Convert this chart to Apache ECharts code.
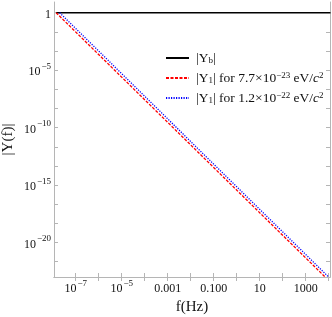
<!DOCTYPE html>
<html>
<head>
<meta charset="utf-8">
<script src="https://cdn.jsdelivr.net/npm/echarts@6/dist/echarts.min.js"></script>
<style>
  html, body { margin: 0; padding: 0; background: #fff; }
  #card { width: 332px; height: 317px; }
</style>
</head>
<body>
<div id="card"></div>
<script>
// values (log-log)
const seriesNames = ['Yb', 'Y1a', 'Y1b']
const ybFreq = [1.4e-8, 1.2e4]
const ybVal = [1, 1]
const y1aFreq = [1.4e-8, 7.0e3]
const y1aVal = [1, 1e-23]
const y1bFreq = [2.0e-8, 9.9e3]
const y1bVal = [1, 1e-23]

// tick marks (every decade on x, every 5/3 decade on y) and labelled ticks
const xTicks = [1e-8, 1e-7, 1e-6, 1e-5, 1e-4, 1e-3, 1e-2, 1e-1, 1, 10, 100, 1000, 1e4]
const xLabelVals = [1e-7, 1e-5, 1e-3, 1e-1, 10, 1000]
const xTickLabels = ['10^−7', '10^−5', '0.001', '0.100', '10', '1000']
const yLabelVals = [1, 1e-5, 1e-10, 1e-15, 1e-20]
const yTickLabels = ['1', '10^−5', '10^−10', '10^−15', '10^−20']

const FONT = 'Liberation Serif'

function pairs (xs, ys) {
  return xs.map((x, i) => [x, ys[i]])
}
// y tick marks: majors every 5 decades, two minors between
let yTicks = []
for (let e = 0; e >= -20; e -= 5) {
  yTicks.push(Math.pow(10, e))
  if (e > -20) {
    yTicks.push(Math.pow(10, e - 5 / 3))
    yTicks.push(Math.pow(10, e - 10 / 3))
  }
}
yTicks.push(Math.pow(10, -20 - 5 / 3))

// '10^−5' -> rich text with superscript
function rich (s) {
  let p = s.split('^')
  if (p.length === 1) return '{n|' + s + '}'
  return '{n|' + p[0] + '}{s|' + p[1] + '}'
}
function tickFormatter (vals, labels) {
  return function (v) {
    let l = Math.log10(v)
    for (let i = 0; i < vals.length; i++) {
      if (Math.abs(Math.log10(vals[i]) - l) < 1e-6) return rich(labels[i])
    }
    return ''
  }
}
const tickRich = {
  n: { fontFamily: FONT, fontSize: 12, color: '#111', lineHeight: 16, verticalAlign: 'bottom' },
  s: { fontFamily: FONT, fontSize: 9, color: '#111', lineHeight: 16, verticalAlign: 'top', padding: [0, 0, 0, 1] }
}
const frame = '#b5b5b5'

let myChart = echarts.init(document.getElementById('card'))

const legendText = {
  Yb: '|Y{sub|b}|',
  Y1a: '|Y{sub|1}| for 7.7×10{sup|−23} eV/{it|c}{sup|2}',
  Y1b: '|Y{sub|1}| for 1.2×10{sup|−22} eV/{it|c}{sup|2}'
}

function xAx (pos, show) {
  return {
    type: 'log',
    position: pos,
    min: 1.14e-8,
    max: 1.14e4,
    axisLine: { show: true, lineStyle: { color: frame, width: 1 } },
    axisTick: { show: true, inside: true, length: 4, customValues: xTicks, lineStyle: { color: frame } },
    splitLine: { show: false },
    axisLabel: {
      show: show,
      margin: 2,
      customValues: xLabelVals,
      formatter: tickFormatter(xLabelVals, xTickLabels),
      rich: tickRich
    },
    name: show ? 'f(Hz)' : '',
    nameLocation: 'middle',
    nameGap: 23,
    nameMoveOverlap: false,
    nameTextStyle: { fontFamily: FONT, fontSize: 15, color: '#111' }
  }
}
function yAx (pos, show) {
  return {
    type: 'log',
    position: pos,
    min: 1e-23,
    max: 8.5,
    axisLine: { show: true, lineStyle: { color: frame, width: 1 } },
    axisTick: { show: true, inside: true, length: 4, customValues: yTicks, lineStyle: { color: frame } },
    splitLine: { show: false },
    axisLabel: {
      show: show,
      margin: 3,
      customValues: yLabelVals,
      formatter: tickFormatter(yLabelVals, yTickLabels),
      rich: tickRich
    },
    name: show ? '|Y(f)|' : '',
    nameLocation: 'middle',
    nameRotate: 90,
    nameGap: 38,
    nameMoveOverlap: false,
    nameTextStyle: { fontFamily: FONT, fontSize: 15, color: '#111' }
  }
}

var option = {
  backgroundColor: '#fff',
  animation: false,
  grid: { left: 54, right: 2, top: 2, bottom: 40, containLabel: false, outerBoundsMode: 'none' },
  legend: {
    orient: 'vertical',
    left: 165,
    top: 51,
    padding: 0,
    itemWidth: 23,
    itemHeight: 8,
    itemGap: 6,
    data: seriesNames,
    formatter: name => legendText[name],
    itemStyle: { opacity: 0 },
    textStyle: {
      fontFamily: FONT,
      fontSize: 13.5,
      color: '#111',
      lineHeight: 14,
      padding: [0, 0, 0, 2],
      rich: {
        sub: { fontFamily: FONT, fontSize: 9, lineHeight: 14, verticalAlign: 'bottom', color: '#111' },
        sup: { fontFamily: FONT, fontSize: 9, lineHeight: 14, verticalAlign: 'top', color: '#111' },
        it: { fontFamily: FONT, fontSize: 13.5, fontStyle: 'italic', lineHeight: 14, color: '#111' }
      }
    }
  },
  xAxis: [xAx('bottom', true), xAx('top', false)],
  yAxis: [yAx('left', true), yAx('right', false)],
  series: [{
    name: 'Yb',
    type: 'line',
    symbol: 'none',
    data: pairs(ybFreq, ybVal),
    lineStyle: { color: '#000', width: 1.6 },
    itemStyle: { color: '#000' }
  }, {
    name: 'Y1a',
    type: 'line',
    symbol: 'none',
    data: pairs(y1aFreq, y1aVal),
    lineStyle: { color: '#ff0000', width: 1.3, type: [3, 1.5] },
    itemStyle: { color: '#ff0000' }
  }, {
    name: 'Y1b',
    type: 'line',
    symbol: 'none',
    data: pairs(y1bFreq, y1bVal),
    lineStyle: { color: '#0000ff', width: 1.3, type: [1.2, 1.3] },
    itemStyle: { color: '#0000ff' }
  }]
}
myChart.setOption(option)
</script>
</body>
</html>
